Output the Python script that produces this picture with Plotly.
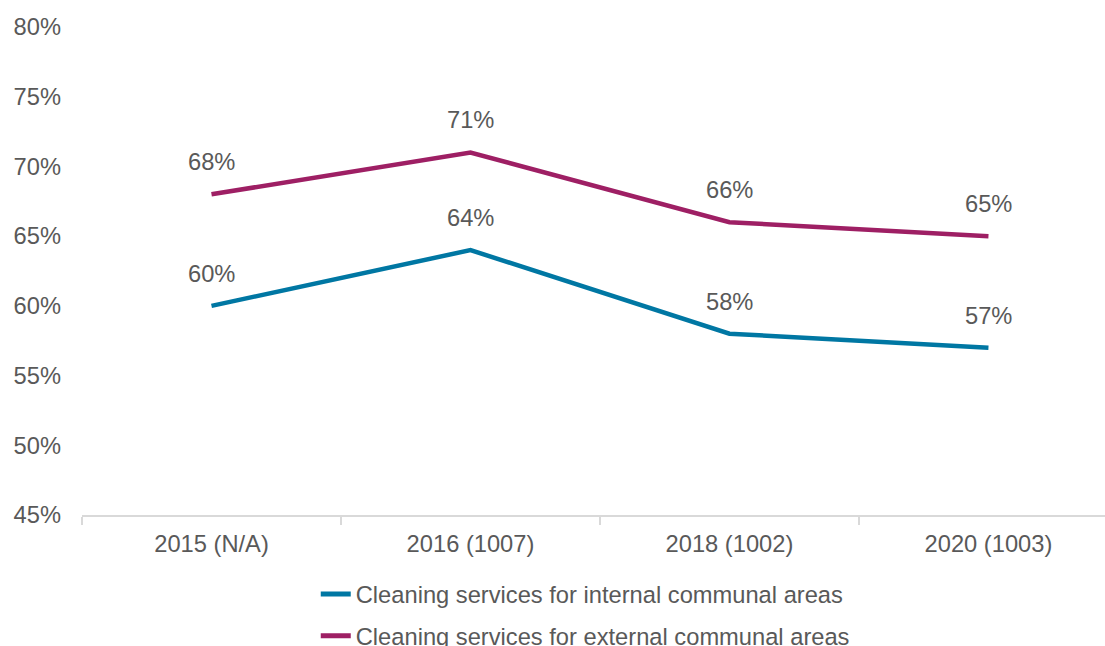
import plotly.graph_objects as go

categories = ["2015 (N/A)", "2016 (1007)", "2018 (1002)", "2020 (1003)"]
internal = [60, 64, 58, 57]
external = [68, 71, 66, 65]
y_ticks = [45, 50, 55, 60, 65, 70, 75, 80]

FONT = "Liberation Sans, Arial, sans-serif"
GREY = "#595959"
SIZE = 23.7

series = [
    ("Cleaning services for internal communal areas", internal, "#0077A3"),
    ("Cleaning services for external communal areas", external, "#9E1F64"),
]

fig = go.Figure()
for i, (name, vals, color) in enumerate(series):
    fig.add_trace(go.Scatter(
        x=categories, y=vals, mode="lines", name=name,
        legendgroup=f"g{i}",
        line=dict(color=color, width=4.5),
    ))
    for c, v in zip(categories, vals):
        fig.add_annotation(
            x=c, y=v, text=f"{v}%", showarrow=False, yshift=32,
            font=dict(family=FONT, size=SIZE, color=GREY),
        )

fig.update_layout(
    width=1105, height=646,
    margin=dict(l=82, r=0, t=27, b=131, autoexpand=False),
    paper_bgcolor="white", plot_bgcolor="white",
    font=dict(family=FONT, size=SIZE, color=GREY),
    showlegend=True,
    legend=dict(
        x=0.2285, xanchor="left", y=-0.117, yanchor="top",
        orientation="v", font=dict(family=FONT, size=SIZE, color=GREY),
        tracegroupgap=8, itemsizing="constant",
    ),
)
fig.update_xaxes(
    type="category", range=[-0.5, 3.45],
    showline=True, linecolor="#D9D9D9", linewidth=2,
    ticks="outside", tickson="boundaries", ticklen=8, tickcolor="#D9D9D9", tickwidth=2,
    showgrid=False, zeroline=False, ticklabelstandoff=7,
    tickfont=dict(family=FONT, size=SIZE, color=GREY),
)
fig.update_yaxes(
    range=[45, 80], tickvals=y_ticks, ticktext=[f"{t}%" for t in y_ticks],
    showgrid=False, zeroline=False, showline=False,
    tickfont=dict(family=FONT, size=SIZE, color=GREY), ticklabelstandoff=20,
)

fig.write_html("out.html")
